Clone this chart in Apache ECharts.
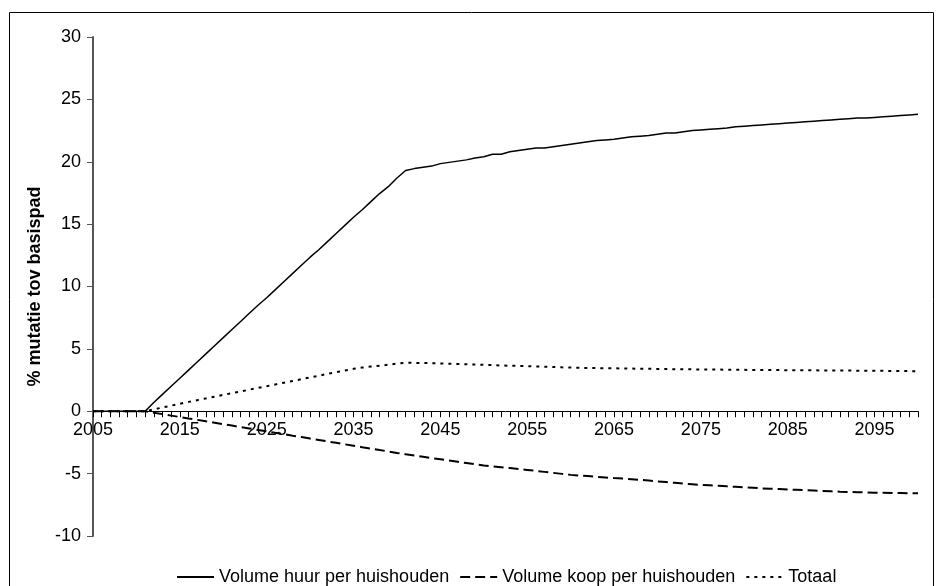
<!DOCTYPE html>
<html>
<head>
<meta charset="utf-8">
<script src="https://cdn.jsdelivr.net/npm/echarts@6/dist/echarts.min.js"></script>
<style>html,body{margin:0;padding:0;background:#fff;}#c{width:943px;height:586px;}</style>
</head>
<body>
<div id="c"></div>
<script>
var years = ['2005','2006','2007','2008','2009','2010','2011','2012','2013','2014','2015','2016','2017','2018','2019','2020','2021','2022','2023','2024','2025','2026','2027','2028','2029','2030','2031','2032','2033','2034','2035','2036','2037','2038','2039','2040','2041','2042','2043','2044','2045','2046','2047','2048','2049','2050','2051','2052','2053','2054','2055','2056','2057','2058','2059','2060','2061','2062','2063','2064','2065','2066','2067','2068','2069','2070','2071','2072','2073','2074','2075','2076','2077','2078','2079','2080','2081','2082','2083','2084','2085','2086','2087','2088','2089','2090','2091','2092','2093','2094','2095','2096','2097','2098','2099','2100'];

var huur = [0,0,0,0,0,0,0,0.7,1.35,2.0,2.65,3.3,3.95,4.6,5.25,5.9,6.55,7.2,7.85,8.5,9.1,9.75,10.4,11.05,11.7,12.35,12.95,13.6,14.25,14.9,15.55,16.15,16.8,17.45,18.0,18.7,19.3,19.45,19.55,19.65,19.85,19.95,20.05,20.15,20.3,20.4,20.6,20.6,20.8,20.9,21.0,21.1,21.1,21.2,21.3,21.4,21.5,21.6,21.7,21.75,21.8,21.9,22.0,22.05,22.1,22.2,22.3,22.3,22.4,22.5,22.55,22.6,22.65,22.7,22.8,22.85,22.9,22.95,23.0,23.05,23.1,23.15,23.2,23.25,23.3,23.35,23.4,23.45,23.5,23.5,23.55,23.6,23.65,23.7,23.75,23.8];

var koop = [0,0,0,0,0,0,0,-0.12,-0.23,-0.35,-0.46,-0.58,-0.69,-0.81,-0.92,-1.04,-1.15,-1.27,-1.38,-1.5,-1.61,-1.73,-1.84,-1.96,-2.07,-2.19,-2.3,-2.42,-2.53,-2.65,-2.76,-2.88,-2.99,-3.11,-3.22,-3.34,-3.45,-3.55,-3.65,-3.75,-3.85,-3.95,-4.05,-4.15,-4.25,-4.35,-4.42,-4.48,-4.55,-4.62,-4.7,-4.78,-4.86,-4.94,-5.02,-5.1,-5.15,-5.2,-5.26,-5.31,-5.36,-5.4,-5.45,-5.5,-5.55,-5.62,-5.68,-5.74,-5.8,-5.85,-5.9,-5.94,-5.98,-6.02,-6.06,-6.1,-6.14,-6.18,-6.21,-6.24,-6.27,-6.3,-6.33,-6.36,-6.39,-6.42,-6.45,-6.47,-6.49,-6.51,-6.53,-6.54,-6.55,-6.56,-6.57,-6.57];

var totaal = [0,0,0,0,0,0,0,0.15,0.3,0.45,0.6,0.75,0.89,1.03,1.17,1.31,1.45,1.59,1.73,1.87,2.01,2.15,2.29,2.43,2.57,2.71,2.85,2.99,3.13,3.27,3.4,3.5,3.58,3.65,3.73,3.82,3.88,3.88,3.87,3.85,3.83,3.81,3.79,3.77,3.75,3.72,3.7,3.67,3.65,3.63,3.61,3.59,3.57,3.55,3.52,3.5,3.48,3.47,3.46,3.45,3.44,3.43,3.42,3.41,3.4,3.39,3.38,3.37,3.36,3.36,3.35,3.34,3.34,3.33,3.33,3.32,3.31,3.31,3.3,3.3,3.29,3.29,3.28,3.28,3.27,3.27,3.26,3.26,3.25,3.25,3.24,3.24,3.23,3.23,3.22,3.2];

var seriesNames = ['Volume huur per huishouden','Volume koop per huishouden','Totaal'];
var yTitle = '% mutatie tov basispad';

var font = 'Liberation Sans, Arial, sans-serif';
var gridTop = 37, gridBottom = 50, H = 586;
var yMin = -10, yMax = 30;
var plotH = H - gridTop - gridBottom;
var zeroOffset = -plotH * (0 - yMin) / (yMax - yMin);

var chart = echarts.init(document.getElementById('c'), null, {renderer:'canvas'});
chart.setOption({
  animation: false,
  backgroundColor: '#fff',
  graphic: [{
    type: 'rect', shape: {x: 9.5, y: 12.5, width: 924, height: 600},
    style: {fill: 'none', stroke: '#000', lineWidth: 1}, silent: true, z: -1
  }],
  grid: {left: 93, right: 25, top: gridTop, bottom: gridBottom, containLabel: false},
  legend: {
    top: 563, left: 171,
    itemWidth: 37, itemHeight: 14, itemGap: 10,
    itemStyle: {opacity: 0},
    textStyle: {fontFamily: font, fontSize: 18, color: '#000'},
    data: seriesNames
  },
  xAxis: {
    type: 'category', data: years, boundaryGap: false,
    position: 'bottom', offset: zeroOffset,
    axisLine: {onZero: false, lineStyle: {color: '#000', width: 1}},
    axisTick: {show: true, interval: 0, length: 6, lineStyle: {color: '#000'}},
    axisLabel: {interval: 9, margin: 10, fontFamily: font, fontSize: 18, color: '#000'},
    splitLine: {show: false}
  },
  yAxis: {
    type: 'value', min: yMin, max: yMax, interval: 5,
    name: yTitle, nameLocation: 'middle', nameGap: 48, nameRotate: 90,
    nameTextStyle: {fontFamily: font, fontSize: 18, fontWeight: 'bold', color: '#000'},
    axisLine: {show: true, lineStyle: {color: '#555', width: 2}},
    axisTick: {show: true, length: 6, lineStyle: {color: '#555'}},
    axisLabel: {margin: 12, fontFamily: font, fontSize: 18, color: '#000'},
    splitLine: {show: false}
  },
  series: [
    {name: seriesNames[0], type: 'line', data: huur, symbol: 'none',
     lineStyle: {color: '#000', width: 1.5, type: 'solid'}, itemStyle: {color: '#000'}},
    {name: seriesNames[1], type: 'line', data: koop, symbol: 'none',
     lineStyle: {color: '#000', width: 2, type: [10, 5]}, itemStyle: {color: '#000'}},
    {name: seriesNames[2], type: 'line', data: totaal, symbol: 'none',
     lineStyle: {color: '#000', width: 2, type: [3, 5]}, itemStyle: {color: '#000'}}
  ]
});
</script>
</body>
</html>
